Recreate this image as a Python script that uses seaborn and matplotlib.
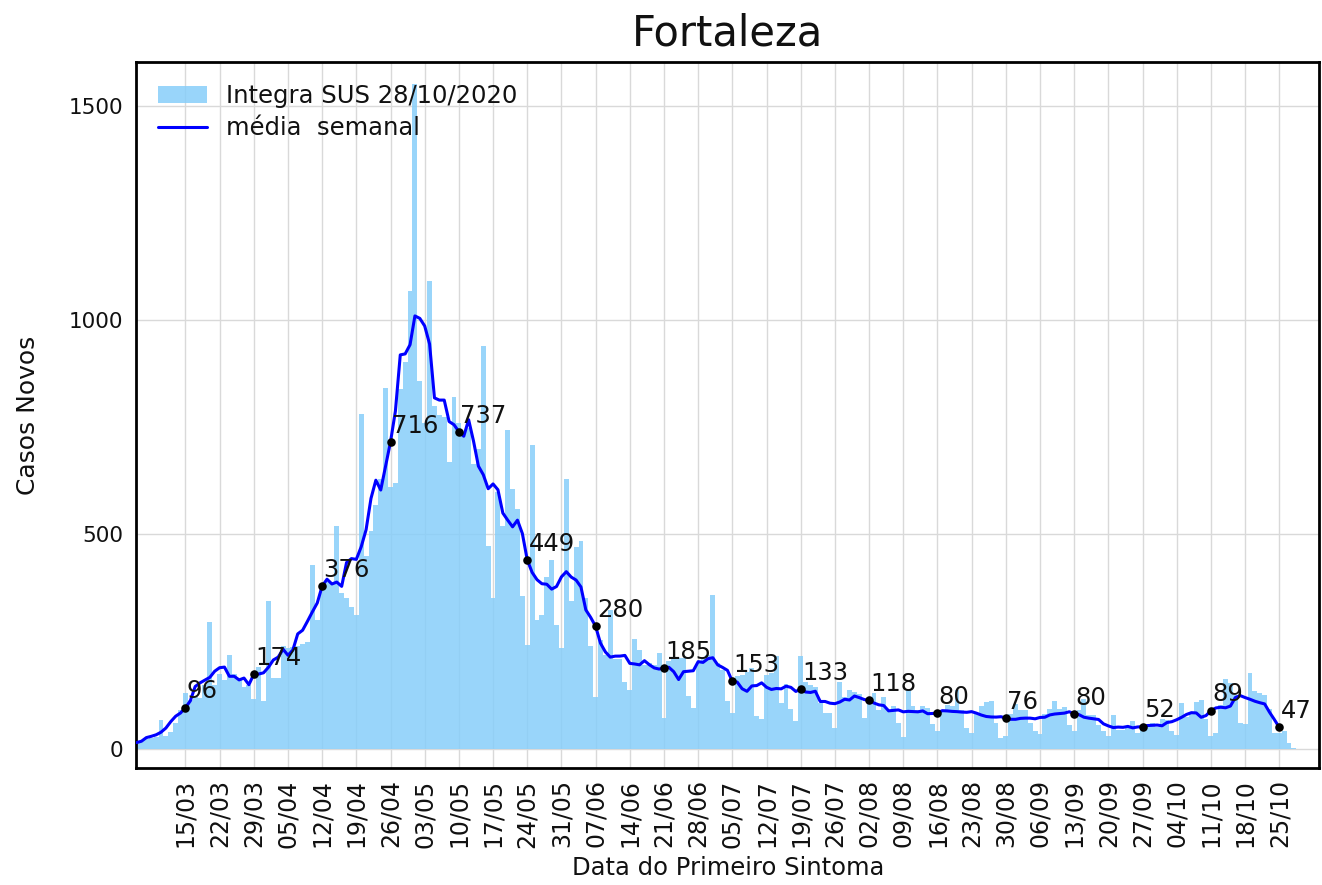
import matplotlib
matplotlib.use('Agg')
import matplotlib.pyplot as plt
import matplotlib.dates as mdates
import numpy as np
import pandas as pd
import seaborn as sns
from matplotlib.patches import Patch
from matplotlib.lines import Line2D

# Casos novos diarios por data do primeiro sintoma (Integra SUS 28/10/2020).
casos_mar = [5, 8, 10, 15, 18, 22, 25, 27, 67, 31, 40, 60, 90, 130, 115, 120, 118,
             150, 295, 150, 175, 160, 220, 175, 160, 145, 150, 116, 190, 112]  # 02/03 - 31/03
casos_abr = [344, 165, 165, 240, 235, 237, 241, 245, 250, 429, 300, 382, 390, 386, 520,
             363, 351, 331, 312, 780, 449, 508, 568, 630, 841, 610, 620, 840, 903, 1068]
casos_mai = [1550, 857, 760, 1090, 800, 779, 774, 670, 821, 760, 740, 748, 665, 700, 939,
             472, 352, 600, 519, 743, 605, 559, 356, 243, 709, 301, 313, 400, 440, 290, 235]
casos_jun = [629, 344, 470, 485, 352, 241, 122, 255, 220, 325, 210, 210, 156, 138, 256,
             231, 195, 200, 196, 224, 72, 204, 212, 212, 212, 124, 96, 200, 212, 220]
casos_jul = [360, 200, 184, 112, 84, 170, 172, 180, 188, 76, 70, 172, 176, 216, 108,
             152, 92, 64, 216, 156, 150, 145, 106, 84, 84, 49, 156, 122, 137, 133, 129]
casos_ago = [72, 114, 130, 91, 122, 91, 99, 61, 27, 137, 99, 91, 99, 95, 57,
             42, 91, 103, 99, 137, 91, 49, 38, 84, 99, 110, 112, 60, 26, 30, 82]
casos_set = [105, 90, 90, 60, 41, 34, 82, 94, 112, 94, 97, 56, 41, 90, 116,
             79, 79, 56, 41, 30, 79, 45, 45, 52, 64, 37, 45, 55, 60, 50]
casos_out = [70, 68, 41, 33, 108, 74, 82, 110, 114, 70, 29, 37, 102, 162, 154,
             126, 61, 57, 176, 134, 130, 126, 94, 37, 37, 41, 13, 2]  # 01/10 - 28/10

# Valores escritos sobre a media semanal (a cada 14 dias).
rotulos_valores = [96, 174, 376, 716, 737, 449, 280, 185, 153, 133, 118, 80, 76, 80, 52, 89, 47]

dias = pd.date_range('2020-03-02', '2020-10-28', freq='D')
casos = pd.Series(casos_mar + casos_abr + casos_mai + casos_jun + casos_jul
                  + casos_ago + casos_set + casos_out, index=dias)
media = casos.rolling(7, center=True).mean()
rotulos_datas = pd.date_range('2020-03-15', '2020-10-25', freq='14D')
ticks = pd.date_range('2020-03-15', '2020-10-25', freq='7D')

sns.set_style('white')
plt.rcParams.update({
    'text.color': '#111111',
    'axes.labelcolor': '#111111',
    'xtick.color': '#111111',
    'ytick.color': '#111111',
})

fig = plt.figure(figsize=(13.22, 8.85), dpi=100)
ax = fig.add_axes([0.103, 0.132, 0.895, 0.798])

# Grade atras de tudo.
ax.set_axisbelow(True)
ax.grid(True, color='#d9d9d9', linewidth=1)

# Barras diarias.
ax.bar(dias, casos.values, width=1.0, color='lightskyblue', alpha=0.85,
       linewidth=0, zorder=2)

# Media semanal.
sns.lineplot(x=media.index, y=media.values, ax=ax, color='blue',
             linewidth=2.2, zorder=3)

# Marcadores e rotulos.
pontos = media.loc[rotulos_datas]
sns.scatterplot(x=rotulos_datas, y=pontos.values, ax=ax, marker='o',
                color='black', s=38, linewidth=0, zorder=4, legend=False)
for d, y, v in zip(rotulos_datas, pontos.values, rotulos_valores):
    ax.annotate(str(v), xy=(d, y), xytext=(1, 3), textcoords='offset points',
                fontsize=17.5, ha='left', va='bottom', zorder=5)

# Eixos.
ax.set_xlim(pd.Timestamp('2020-03-04 22:00'), pd.Timestamp('2020-11-02 05:00'))
ax.set_ylim(-45, 1602)
ax.set_yticks([0, 500, 1000, 1500])
ax.set_xticks(ticks)
ax.xaxis.set_major_formatter(mdates.DateFormatter('%d/%m'))
ax.tick_params(axis='x', direction='in', length=7, width=1.5, labelsize=17,
               rotation=90, pad=8)
ax.tick_params(axis='y', direction='in', length=7, width=1.5, labelsize=15.5, pad=9)
for s in ax.spines.values():
    s.set_linewidth(2)
    s.set_color('black')

ax.set_xlabel('Data do Primeiro Sintoma', fontsize=17.5, labelpad=6)
ax.set_ylabel('Casos Novos', fontsize=18, labelpad=21)
ax.set_title('Fortaleza', fontsize=30, pad=12)

# Legenda.
handles = [Patch(facecolor='lightskyblue', alpha=0.85, linewidth=0),
           Line2D([], [], color='blue', linewidth=2.2)]
ax.legend(handles, ['Integra SUS 28/10/2020', 'média  semanal'], loc='upper left',
          frameon=False, fontsize=17.5, handlelength=2.0, borderaxespad=0.5,
          labelspacing=0.35)

fig.savefig('out.png', dpi=100)
